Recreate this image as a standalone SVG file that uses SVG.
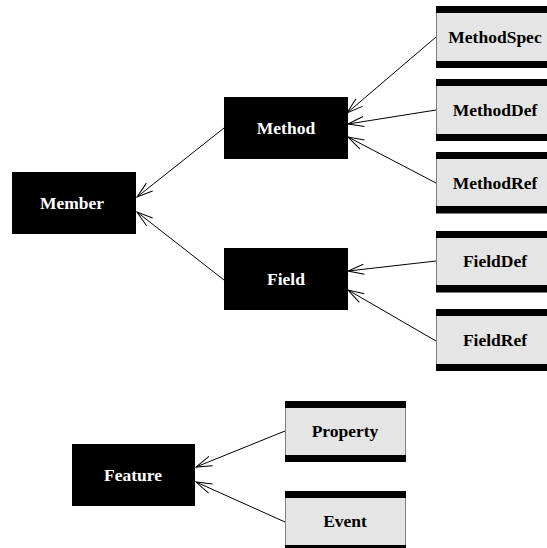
<svg xmlns="http://www.w3.org/2000/svg" width="547" height="548" viewBox="0 0 547 548">
<style>
.dark{fill:#000}
.light{fill:#e5e5e5;stroke:#7f7f7f;stroke-width:1}
.bar{fill:#000}
text{font-family:"Liberation Serif","Times New Roman",serif;font-weight:bold;font-size:17.5px;text-anchor:middle}
.dt{fill:#fff}
.lt{fill:#000}
.edge{stroke:#000;stroke-width:1;fill:none}
</style>
<defs>
<marker id="arr" markerUnits="userSpaceOnUse" markerWidth="20" markerHeight="14" viewBox="-17 -7 20 14" refX="0" refY="0" orient="auto">
<path d="M-16,-5 L0,0 L-16,5" fill="none" stroke="#000" stroke-width="1"/>
</marker>
</defs>
<g id="connectors">
<line class="edge" x1="436" y1="37" x2="347" y2="113" marker-end="url(#arr)"/>
<line class="edge" x1="436" y1="110" x2="348" y2="124" marker-end="url(#arr)"/>
<line class="edge" x1="436" y1="183" x2="348" y2="137" marker-end="url(#arr)"/>
<line class="edge" x1="224" y1="128" x2="137" y2="197" marker-end="url(#arr)"/>
<line class="edge" x1="224" y1="280" x2="137" y2="212" marker-end="url(#arr)"/>
<line class="edge" x1="436" y1="261" x2="348" y2="271" marker-end="url(#arr)"/>
<line class="edge" x1="436" y1="341" x2="348" y2="290" marker-end="url(#arr)"/>
<line class="edge" x1="285" y1="431" x2="196" y2="467" marker-end="url(#arr)"/>
<line class="edge" x1="285" y1="522" x2="196" y2="482" marker-end="url(#arr)"/>
</g>
<g id="Member"><rect class="dark" x="12" y="172" width="124" height="62"/><text class="dt" x="72" y="209">Member</text></g>
<g id="Method"><rect class="dark" x="224" y="97" width="124" height="62"/><text class="dt" x="286" y="134">Method</text></g>
<g id="Field"><rect class="dark" x="224" y="248" width="124" height="62"/><text class="dt" x="286" y="285">Field</text></g>
<g id="Feature"><rect class="dark" x="72" y="444" width="123" height="62"/><text class="dt" x="133" y="481">Feature</text></g>
<g id="MethodSpec"><rect class="light" x="436.5" y="6.5" width="118" height="61"/><rect class="bar" x="436" y="6" width="119" height="7"/><rect class="bar" x="436" y="61" width="119" height="7"/><text class="lt" x="495" y="43">MethodSpec</text></g>
<g id="MethodDef"><rect class="light" x="436.5" y="79.5" width="118" height="61"/><rect class="bar" x="436" y="79" width="119" height="7"/><rect class="bar" x="436" y="134" width="119" height="7"/><text class="lt" x="495" y="116">MethodDef</text></g>
<g id="MethodRef"><rect class="light" x="436.5" y="152.5" width="118" height="61"/><rect class="bar" x="436" y="152" width="119" height="7"/><rect class="bar" x="436" y="206" width="119" height="7"/><text class="lt" x="495" y="189">MethodRef</text></g>
<g id="FieldDef"><rect class="light" x="436.5" y="231.5" width="118" height="61"/><rect class="bar" x="436" y="231" width="119" height="7"/><rect class="bar" x="436" y="285" width="119" height="7"/><text class="lt" x="495" y="267">FieldDef</text></g>
<g id="FieldRef"><rect class="light" x="436.5" y="309.5" width="118" height="61"/><rect class="bar" x="436" y="309" width="119" height="7"/><rect class="bar" x="436" y="364" width="119" height="7"/><text class="lt" x="495" y="346">FieldRef</text></g>
<g id="Property"><rect class="light" x="285.5" y="401.5" width="120" height="60"/><rect class="bar" x="285" y="401" width="121" height="7"/><rect class="bar" x="285" y="455" width="121" height="7"/><text class="lt" x="345" y="437">Property</text></g>
<g id="Event"><rect class="light" x="285.5" y="491.5" width="120" height="60"/><rect class="bar" x="285" y="491" width="121" height="7"/><rect class="bar" x="285" y="545" width="121" height="7"/><text class="lt" x="345" y="527">Event</text></g>
</svg>
